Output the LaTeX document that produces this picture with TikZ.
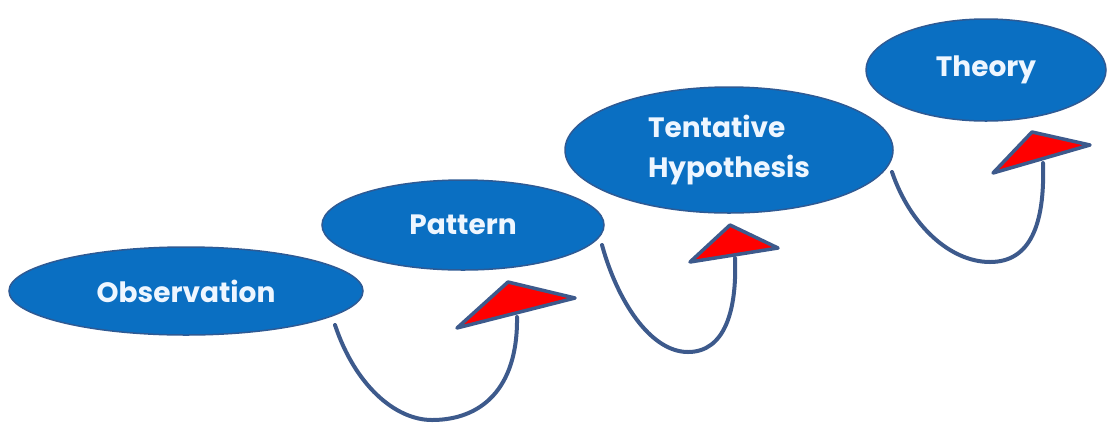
\documentclass[tikz,border=0pt]{standalone}
\usepackage{fontspec}
\setmainfont{Poppins}
\usetikzlibrary{shapes.geometric}
\definecolor{ellfill}{HTML}{0A6FC2}
\definecolor{ellline}{HTML}{2E5A94}
\definecolor{curve}{HTML}{3D5A8C}
\definecolor{txt}{HTML}{EEF6FF}
\definecolor{tri}{HTML}{FF0000}
\begin{document}
\begin{tikzpicture}[x=1pt,y=-1pt,
  oval/.style={ellipse, draw=ellline, line width=1.5pt, fill=ellfill, inner sep=0pt,
     text=txt, font=\fontsize{28}{40}\selectfont\bfseries, align=left},
  shaft/.style={draw=curve, line width=4pt, line cap=round},
  head/.style={draw=curve, fill=tri, line width=3.5pt, line join=round}]
\useasboundingbox (0,0) rectangle (1107,424);
\node[oval, minimum width=354pt, minimum height=88pt] (obs) at (186,291) {Observation};
\node[oval, minimum width=282pt, minimum height=90pt] (pat) at (463,225) {Pattern};
\node[oval, minimum width=328pt, minimum height=126pt] (hyp) at (729,150) {Tentative\\Hypothesis};
\node[oval, minimum width=240pt, minimum height=102pt] (the) at (986,70) {Theory};
% arrow 1
\coordinate (s1) at (335,325);
\coordinate (b1) at (432,420);
\coordinate (e1) at (517,317);
\draw[shaft] (s1) .. controls (355,385) and (395,420) .. (b1)
                  .. controls (480,420) and (518,390) .. (e1);
\draw[head] (457,328) -- (508,282) -- (575,298) -- cycle;
% arrow 2
\coordinate (s2) at (602,245);
\coordinate (b2) at (688,352);
\coordinate (e2) at (735,258);
\draw[shaft] (s2) .. controls (617,300) and (650,352) .. (b2)
                  .. controls (725,352) and (737,310) .. (e2);
\draw[head] (690,262) -- (730,225) -- (778,248) -- cycle;
% arrow 3
\coordinate (s3) at (892,172);
\coordinate (b3) at (990,262);
\coordinate (e3) at (1043,163);
\draw[shaft] (s3) .. controls (910,225) and (950,262) .. (b3)
                  .. controls (1030,262) and (1045,225) .. (e3);
\draw[head] (993,173) -- (1032,132) -- (1090,145) -- cycle;
\end{tikzpicture}
\end{document}
